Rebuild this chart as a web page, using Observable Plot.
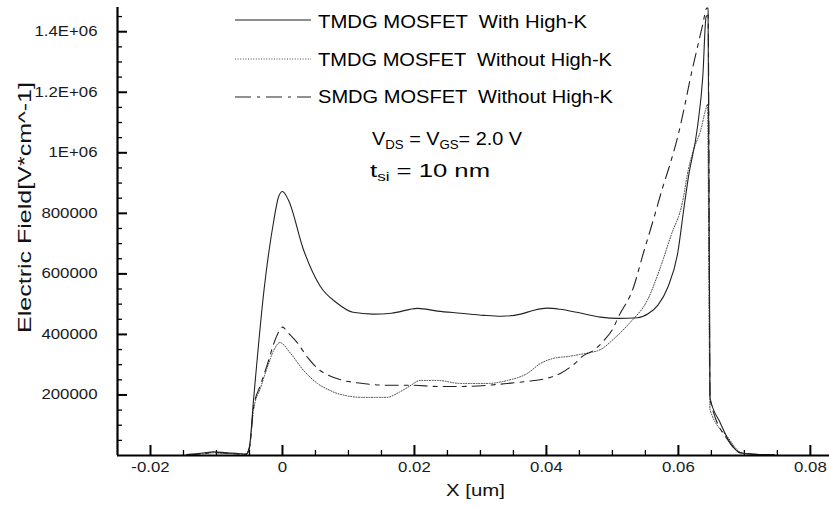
<!DOCTYPE html>
<html><head><meta charset="utf-8">
<script src="https://cdn.jsdelivr.net/npm/d3@7"></script>
<script src="https://cdn.jsdelivr.net/npm/@observablehq/plot@0.6"></script>
<style>
html,body{margin:0;padding:0;background:#fff;}
#wrap{position:relative;width:830px;height:507px;font-family:"Liberation Sans",Arial,sans-serif;color:#000;overflow:hidden;}
#wrap svg{display:block;}
.lg{position:absolute;white-space:pre;font-size:18px;line-height:22px;transform-origin:0 50%;}
.sw{position:absolute;}
sub{font-size:12px;vertical-align:-4px;line-height:0;}
</style></head><body>
<div id="wrap"></div>
<script>
// ---- data ----
const seriesNames = ["TMDG MOSFET  With High-K", "TMDG MOSFET  Without High-K", "SMDG MOSFET  Without High-K"];
const xTicks = [-0.02, 0, 0.02, 0.04, 0.06, 0.08];
const xTickLabels = ["-0.02", "0", "0.02", "0.04", "0.06", "0.08"];
const yTicks = [200000, 400000, 600000, 800000, 1000000, 1200000, 1400000];
const yTickLabels = ["200000", "400000", "600000", "800000", "1E+06", "1.2E+06", "1.4E+06"];
const xLabel = "X [um]";
const yLabel = "Electric Field[V*cm^-1]";
const conditionLabel = "V<sub>DS</sub> = V<sub>GS</sub>= 2.0 V";
const thicknessLabel = "t<sub>si</sub> = 10 nm";

const tmdgHighK = [
[-0.0145,3000],[-0.012,8000],[-0.0105,12000],[-0.0085,9000],[-0.0065,6000],[-0.0055,5000],[-0.0050,30000],
[-0.0044,180000],[-0.0028,546000],[-0.0013,778000],[-0.0006,854000],[0,872000],[0.0009,844000],[0.0032,679000],
[0.0057,560000],[0.0083,503000],[0.0107,473000],[0.0137,467000],[0.0165,470000],[0.0205,486000],[0.0235,477000],
[0.0270,470000],[0.0305,463000],[0.0331,460000],[0.0361,467000],[0.0381,480000],[0.0401,487000],[0.0421,483000],
[0.0446,473000],[0.0482,457000],[0.0509,453000],[0.0538,455000],[0.0554,468000],[0.0569,497000],[0.0584,556000],
[0.0599,669000],[0.0608,811000],[0.0615,917000],[0.0629,1086000],[0.0637,1252000],[0.0642,1450000],[0.0645,1455000],
[0.0648,190000],[0.0663,110000],[0.0679,40000],[0.0695,8000],[0.0725,3000],[0.0746,2000]
];
const tmdgNoHighK = [
[-0.0145,2000],[-0.012,6000],[-0.0105,9000],[-0.0085,7000],[-0.0065,5000],[-0.0055,4000],[-0.0050,25000],
[-0.0044,149000],[-0.0033,225000],[-0.0023,291000],[-0.0013,348000],[-0.0004,373000],[0.0012,338000],[0.0032,281000],
[0.0053,238000],[0.0072,215000],[0.0083,205000],[0.0122,192000],[0.0158,192000],[0.0177,209000],[0.0192,228000],
[0.0209,248000],[0.0235,248000],[0.0270,238000],[0.0311,238000],[0.0341,248000],[0.0371,271000],[0.0391,304000],
[0.0411,321000],[0.0436,328000],[0.0451,334000],[0.0466,340000],[0.0482,350000],[0.0502,385000],[0.0527,440000],
[0.0553,513000],[0.0572,617000],[0.0589,728000],[0.0606,835000],[0.0615,944000],[0.0623,1010000],[0.0634,1076000],
[0.0641,1140000],[0.0644,1160000],[0.0648,150000],[0.0675,60000],[0.0695,10000],[0.0725,3000],[0.0746,2000]
];
const smdgNoHighK = [
[-0.0145,2000],[-0.012,6000],[-0.0105,10000],[-0.0085,8000],[-0.0065,5000],[-0.0055,4000],[-0.0050,25000],
[-0.0044,155000],[-0.0033,235000],[-0.0023,300000],[-0.0013,371000],[-0.0006,407000],[0,424000],[0.0009,404000],
[0.0023,371000],[0.0038,324000],[0.0057,281000],[0.0072,263000],[0.0087,251000],[0.0122,238000],[0.0158,232000],
[0.0197,232000],[0.0235,228000],[0.0270,228000],[0.0311,232000],[0.0341,238000],[0.0371,245000],[0.0401,255000],
[0.0421,271000],[0.0441,300000],[0.0456,330000],[0.0472,348000],[0.0487,380000],[0.0502,424000],[0.0508,453000],
[0.0532,556000],[0.0547,669000],[0.0562,778000],[0.0575,877000],[0.0587,960000],[0.0599,1053000],[0.0610,1160000],
[0.0619,1255000],[0.0629,1350000],[0.0637,1425000],[0.0643,1478000],[0.0645,1478000],[0.0648,185000],
[0.0677,45000],[0.0695,8000],[0.0725,3000],[0.0746,2000]
];

// ---- chart ----
const W = 830, H = 507, mL = 117, mR = 1, mT = 7, mB = 52;
const plotW = W - mL - mR, plotH = H - mT - mB;
const xDomain = [-0.025, 0.0829], yDomain = [0, 1480000];
const xMinor = d3.range(-0.02, 0.0801, 0.005).filter(v => !xTicks.some(t => Math.abs(t - v) < 1e-9));
const yMinor = d3.range(50000, 1460000, 50000).filter(v => !yTicks.includes(v));
const X = d => d[0], Y = d => d[1];

const plot = Plot.plot({
  width: W, height: H,
  marginLeft: mL, marginRight: mR, marginTop: mT, marginBottom: mB,
  style: {fontFamily: '"Liberation Sans", Arial, sans-serif', fontSize: "14px", background: "white", color: "#1a1a1a"},
  x: {domain: xDomain},
  y: {domain: yDomain},
  marks: [
    Plot.axisX(xTicks, {tickSize: 0, tickPadding: 7, label: null, tickFormat: d => xTickLabels[xTicks.indexOf(d)]}),
    Plot.axisY(yTicks, {tickSize: 0, tickPadding: 20, label: null, tickFormat: d => yTickLabels[yTicks.indexOf(d)]}),
    Plot.tickX(xTicks, {x: d => d, insetTop: plotH - 10, stroke: "#000", strokeWidth: 2}),
    Plot.tickX(xMinor, {x: d => d, insetTop: plotH - 5, stroke: "#000", strokeWidth: 1.3}),
    Plot.tickY(yTicks, {y: d => d, insetRight: plotW - 10, stroke: "#000", strokeWidth: 2}),
    Plot.tickY(yMinor, {y: d => d, insetRight: plotW - 5, stroke: "#000", strokeWidth: 1.3}),
    Plot.line(tmdgNoHighK, {x: X, y: Y, stroke: "#444", strokeWidth: 1, strokeDasharray: "1 1.6", curve: "monotone-x"}),
    Plot.line(smdgNoHighK, {x: X, y: Y, stroke: "#222", strokeWidth: 1.1, strokeDasharray: "13 6 4 6", curve: "monotone-x"}),
    Plot.line(tmdgHighK, {x: X, y: Y, stroke: "#222", strokeWidth: 1.1, curve: "monotone-x"}),
    Plot.ruleX([xDomain[0]], {stroke: "#000", strokeWidth: 2.2}),
    Plot.ruleY([0], {stroke: "#000", strokeWidth: 2.2}),
    Plot.text([xLabel], {text: d => d, frameAnchor: "bottom", dx: 2, dy: 40, fontSize: 17, fill: "#111", textAnchor: "middle"}),
    Plot.text([yLabel], {text: d => d, frameAnchor: "left", rotate: -90, dx: -93, dy: -24, fontSize: 19, fill: "#111", textAnchor: "middle"})
  ]
});
const wrap = document.getElementById("wrap");
wrap.appendChild(plot);

// stretch texts like the reference's wide lettering
function stretch(sel, f) {
  d3.select(plot).selectAll(sel).each(function () {
    const l = this.getComputedTextLength();
    this.setAttribute("textLength", (l * f).toFixed(1));
    this.setAttribute("lengthAdjust", "spacingAndGlyphs");
  });
}
stretch('g[aria-label="x-axis tick label"] text', 1.2);
stretch('g[aria-label="y-axis tick label"] text', 1.2);
d3.select(plot).selectAll("text").each(function () {
  const t = this.textContent;
  if (t === xLabel) {
    this.setAttribute("textLength", (this.getComputedTextLength() * 1.2).toFixed(1));
    this.setAttribute("lengthAdjust", "spacingAndGlyphs");
  } else if (t === yLabel) {
    this.setAttribute("textLength", 251);
    this.setAttribute("lengthAdjust", "spacingAndGlyphs");
  }
});

// ---- legend / annotations ----
const swatches = [
  {y: 20, dash: null, stroke: "#222", w: 1.1},
  {y: 59, dash: "1 1.6", stroke: "#444", w: 1},
  {y: 97, dash: "16 6 3 6", stroke: "#222", w: 1.1}
];
const textTargets = [269, 294, 295];
const rowCenters = [22, 60, 97];
swatches.forEach((s, i) => {
  const svg = d3.select(wrap).append("svg").attr("class", "sw")
    .style("left", "235px").style("top", (s.y - 5) + "px").attr("width", 76).attr("height", 10);
  svg.append("line").attr("x1", 0).attr("x2", 76).attr("y1", 5).attr("y2", 5)
    .attr("stroke", s.stroke).attr("stroke-width", s.w).attr("stroke-dasharray", s.dash);
  const div = d3.select(wrap).append("div").attr("class", "lg")
    .style("left", "318px").style("top", (rowCenters[i] - 11) + "px").text(seriesNames[i]);
  const w = div.node().getBoundingClientRect().width;
  div.style("transform", `scaleX(${textTargets[i] / w})`);
});
[[conditionLabel, 372, 128, 150], [thicknessLabel, 370, 160, 120]].forEach(([html, left, top, target]) => {
  const div = d3.select(wrap).append("div").attr("class", "lg")
    .style("left", left + "px").style("top", top + "px").html(html);
  const w = div.node().getBoundingClientRect().width;
  div.style("transform", `scaleX(${target / w})`);
});
</script></body></html>
